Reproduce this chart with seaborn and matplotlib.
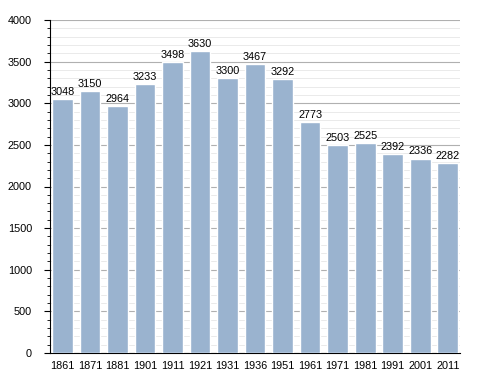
import numpy as np
import pandas as pd
import seaborn as sns
from matplotlib import pyplot as plt
from matplotlib.ticker import MultipleLocator

years = ['1861', '1871', '1881', '1901', '1911', '1921', '1931', '1936',
         '1951', '1961', '1971', '1981', '1991', '2001', '2011']
population = [3048, 3150, 2964, 3233, 3498, 3630, 3300, 3467,
              3292, 2773, 2503, 2525, 2392, 2336, 2282]

df = pd.DataFrame({'year': years, 'pop': population})

sns.set_style('white', {'text.color': 'black', 'xtick.color': 'black',
                        'ytick.color': 'black', 'axes.edgecolor': 'black'})
plt.rcParams['font.family'] = ['Liberation Sans', 'DejaVu Sans']

fig = plt.figure(figsize=(4.88, 3.73), dpi=100)
ax = fig.add_axes([0.1025, 0.0536, 0.8405, 0.8928])

sns.barplot(data=df, x='year', y='pop', color='#9ab3cf', saturation=1,
            width=0.75, ax=ax, zorder=3)

for i, v in enumerate(population):
    ax.text(i, v + 25, str(v), ha='center', va='bottom', fontsize=7.8,
            color='black', zorder=4)

ax.set_ylim(0, 4000)
ax.set_xlim(-0.45, len(years) - 0.55)
ax.yaxis.set_major_locator(MultipleLocator(500))
ax.yaxis.set_minor_locator(MultipleLocator(100))
ax.grid(axis='y', which='major', color='#b0b0b0', linewidth=0.8, zorder=0)
ax.grid(axis='y', which='minor', color='#e6e6e6', linewidth=0.6, zorder=0)
ax.set_axisbelow(True)

for s in ['top', 'right']:
    ax.spines[s].set_visible(False)
ax.tick_params(axis='y', which='major', left=True, length=4, width=0.8,
               labelsize=7.8, pad=9, colors='black')
ax.tick_params(axis='y', which='minor', left=True, length=2, width=0.6,
               colors='black')
ax.tick_params(axis='x', bottom=False, labelsize=7.8, pad=2, colors='black')
ax.set_xlabel('')
ax.set_ylabel('')

fig.savefig('out.png', dpi=100)
